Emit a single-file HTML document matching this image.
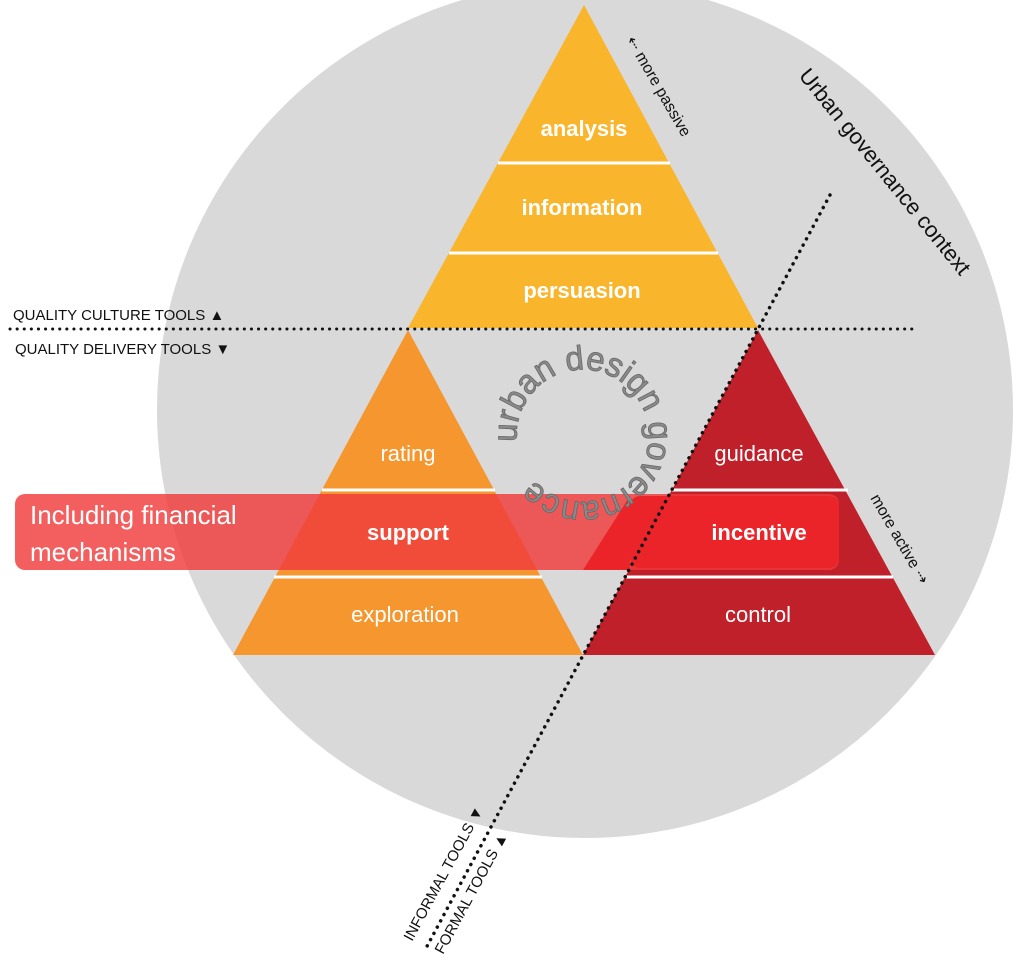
<!DOCTYPE html>
<html><head><meta charset="utf-8"><style>
html,body{margin:0;padding:0;background:#fff;}
svg{display:block;}
text{font-family:"Liberation Sans",sans-serif;}
</style></head><body>
<svg width="1024" height="963" viewBox="0 0 1024 963" xmlns="http://www.w3.org/2000/svg">
<defs>
<path id="ring" d="M 517 442 A 66 66 0 1 1 529 474"/>
</defs>
<circle cx="585" cy="410" r="428" fill="#d9d9d9"/>
<polygon points="584,5 758,328 408,328" fill="#f9b52b"/>
<line x1="498" y1="163" x2="670" y2="163" stroke="#fff" stroke-width="3"/>
<line x1="449" y1="253" x2="718" y2="253" stroke="#fff" stroke-width="3"/>
<polygon points="408,330 583,655 233,655" fill="#f5962e"/>
<polygon points="758,330 935,655 583,655" fill="#c0202a"/>
<rect x="15" y="494" width="824" height="76" rx="10" fill="#f03c3c" fill-opacity="0.82"/>
<rect x="630" y="496" width="209" height="72" rx="10" fill="#ea2428"/>
<polygon points="583,570 630,496 630,570" fill="#ea2428"/>
<line x1="322" y1="490" x2="495" y2="490" stroke="#fff" stroke-width="3"/>
<line x1="274" y1="577" x2="542" y2="577" stroke="#fff" stroke-width="3"/>
<line x1="672" y1="490" x2="848" y2="490" stroke="#fff" stroke-width="3"/>
<line x1="624" y1="577" x2="893" y2="577" stroke="#fff" stroke-width="3"/>
<line x1="10" y1="329" x2="918" y2="329" stroke="#111" stroke-width="3" stroke-dasharray="0.1 7" stroke-linecap="round"/>
<line x1="830" y1="195" x2="425" y2="950" stroke="#111" stroke-width="3.5" stroke-dasharray="0.1 7" stroke-linecap="round"/>
<g fill="#fff" font-size="22" text-anchor="middle">
<text x="584" y="136" font-weight="bold">analysis</text>
<text x="582" y="215" font-weight="bold">information</text>
<text x="582" y="298" font-weight="bold">persuasion</text>
<text x="408" y="461">rating</text>
<text x="408" y="540" font-weight="bold">support</text>
<text x="405" y="622">exploration</text>
<text x="759" y="461">guidance</text>
<text x="759" y="540" font-weight="bold">incentive</text>
<text x="758" y="622">control</text>
</g>
<text x="30" y="524" fill="#fff" font-size="26">Including financial</text>
<text x="30" y="561" fill="#fff" font-size="26">mechanisms</text>
<text font-size="34" fill="#8a8a8a" stroke="#666" stroke-width="0.8"><textPath href="#ring" textLength="372" lengthAdjust="spacingAndGlyphs">urban design governance</textPath></text>
<g fill="#111" font-size="15">
<text x="13" y="320">QUALITY CULTURE TOOLS ▲</text>
<text x="15" y="354">QUALITY DELIVERY TOOLS ▼</text>
</g>
<text transform="translate(798,76) rotate(51)" font-size="22" fill="#111">Urban governance context</text>
<text transform="translate(626,40) rotate(60)" font-size="16" fill="#111">⇠ more passive</text>
<text transform="translate(870,498) rotate(60)" font-size="16" fill="#111">more active ⇢</text>
<text transform="translate(412,942) rotate(-61.5)" font-size="15" fill="#111">INFORMAL TOOLS ▼</text>
<text transform="translate(443,955) rotate(-61.5)" font-size="15" fill="#111">FORMAL TOOLS ▲</text>
</svg>
</body></html>
